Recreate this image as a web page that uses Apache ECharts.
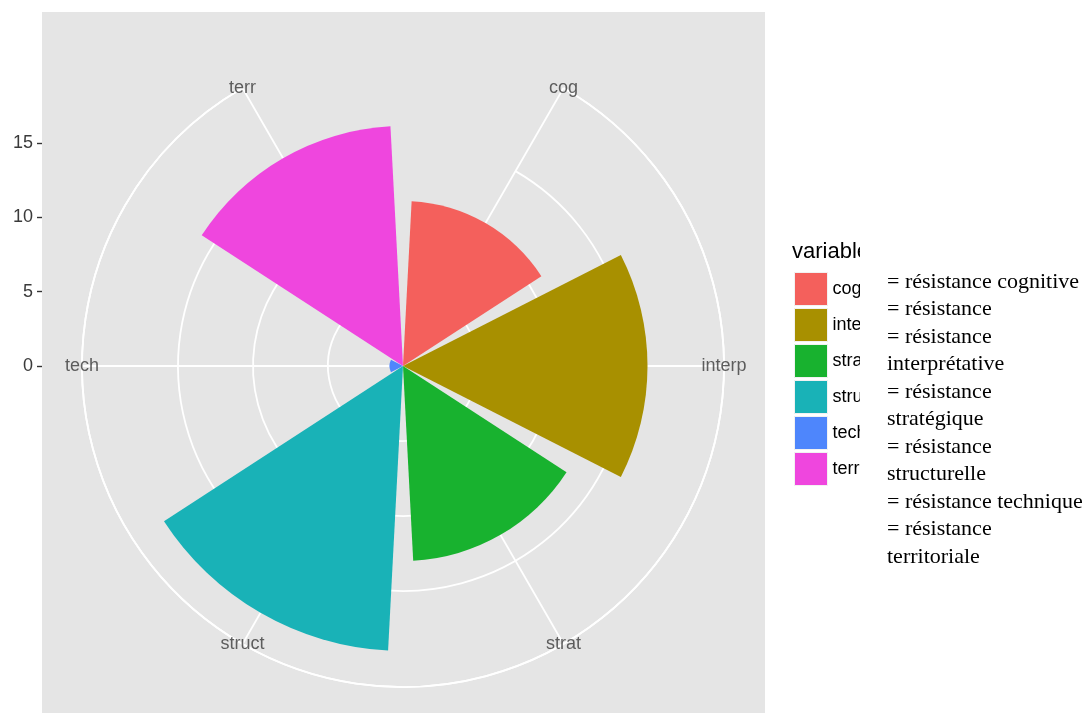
<!DOCTYPE html>
<html>
<head>
<meta charset="utf-8">
<script src="https://cdn.jsdelivr.net/npm/echarts@6/dist/echarts.min.js"></script>
<style>
html, body { margin: 0; padding: 0; background: #fff; }
#main { width: 1089px; height: 713px; }
</style>
</head>
<body>
<div id="main"></div>
<script>
// data
var categories = ['cog', 'interp', 'strat', 'struct', 'tech', 'terr'];
var values = [11, 16.3, 13, 19, 0.9, 16];
var colors = ['#F4605C', '#A89000', '#18B22F', '#19B2B7', '#4E86FC', '#EF46DE'];
var rTicks = [0, 5, 10, 15];
var rMax = 21.4;
var noteLines = [
	'= résistance cognitive',
	'= résistance',
	'= résistance',
	'interprétative',
	'= résistance',
	'stratégique',
	'= résistance',
	'structurelle',
	'= résistance technique',
	'= résistance',
	'territoriale'
];

var cx = 403, cy = 366, R = 321;

var myChart = echarts.init(document.getElementById('main'));

// one series per category so the legend can show them
var series = [];
for (var i = 0; i < categories.length; i++) {
	var d = [];
	for (var j = 0; j < categories.length; j++) {
		d.push(j == i ? values[i] : '-');
	}
	series.push({
		name: categories[i],
		type: 'bar',
		coordinateSystem: 'polar',
		polarIndex: 0,
		stack: 'all',
		barWidth: '90%',
		itemStyle: { color: colors[i] },
		data: d,
		z: 3
	});
}
// angle labels sitting on the outer circle
series.push({
	type: 'scatter',
	coordinateSystem: 'polar',
	polarIndex: 0,
	symbolSize: 0,
	silent: true,
	data: categories.map(function (c) { return { name: c, value: [rMax, c] }; }),
	label: {
		show: true,
		position: 'inside',
		formatter: '{b}',
		color: '#3a3a3a',
		fontSize: 18,
		fontFamily: 'Liberation Sans'
	},
	z: 4
});

var option = {
	backgroundColor: '#fff',
	animation: false,
	color: colors,
	title: {
		text: 'variable',
		left: 787,
		top: 236,
		z: 1,
		textStyle: { fontSize: 22, fontWeight: 'normal', color: '#000', fontFamily: 'Liberation Sans' }
	},
	legend: {
		data: categories,
		orient: 'vertical',
		left: 789,
		top: 267,
		z: 1,
		itemWidth: 33,
		itemHeight: 33,
		itemGap: 2,
		icon: 'rect',
		itemStyle: { borderColor: '#f2f2f2', borderWidth: 1 },
		textStyle: { fontSize: 18, color: '#000', fontFamily: 'Liberation Sans' },
		selectedMode: false
	},
	polar: {
		center: [cx, cy],
		radius: [0, R]
	},
	angleAxis: {
		type: 'category',
		data: categories,
		boundaryGap: false,
		startAngle: 60,
		clockwise: true,
		axisLine: { show: true, lineStyle: { color: '#fff', width: 1.8 } },
		axisTick: { show: false },
		axisLabel: { show: false },
		splitLine: { show: true, lineStyle: { color: '#fff', width: 1.8 } }
	},
	radiusAxis: {
		type: 'value',
		min: 0,
		max: rMax,
		interval: 5,
		axisLine: { show: false },
		axisTick: { show: false },
		axisLabel: { show: false },
		splitLine: {
			show: true,
			lineStyle: { color: ['#fff', '#fff', '#fff', '#fff', 'rgba(0,0,0,0)'], width: 1.8 }
		}
	},
	grid: {
		left: 42,
		top: cy - 318,
		width: 10,
		height: 318
	},
	xAxis: { type: 'value', show: false },
	yAxis: {
		type: 'value',
		min: 0,
		max: rMax,
		axisLine: { show: false },
		axisTick: { show: true, customValues: rTicks, length: 5, lineStyle: { color: '#333', width: 1.4 } },
		axisLabel: { customValues: rTicks, margin: 9, color: '#3a3a3a', fontSize: 18, fontFamily: 'Liberation Sans' },
		splitLine: { show: false }
	},
	graphic: [
		{
			type: 'rect',
			z: -10,
			silent: true,
			shape: { x: 42, y: 12, width: 723, height: 701 },
			style: { fill: '#E5E5E5' }
		},
		{
			type: 'rect',
			z: 100,
			silent: true,
			shape: { x: 860, y: 230, width: 229, height: 350 },
			style: { fill: '#fff' }
		},
		{
			type: 'text',
			z: 101,
			left: 887,
			top: 268,
			style: {
				text: noteLines.join('\n'),
				font: '22px "Liberation Serif"',
				fill: '#000',
				lineHeight: 27.5
			}
		}
	],
	series: series
};

myChart.setOption(option);
</script>
</body>
</html>
